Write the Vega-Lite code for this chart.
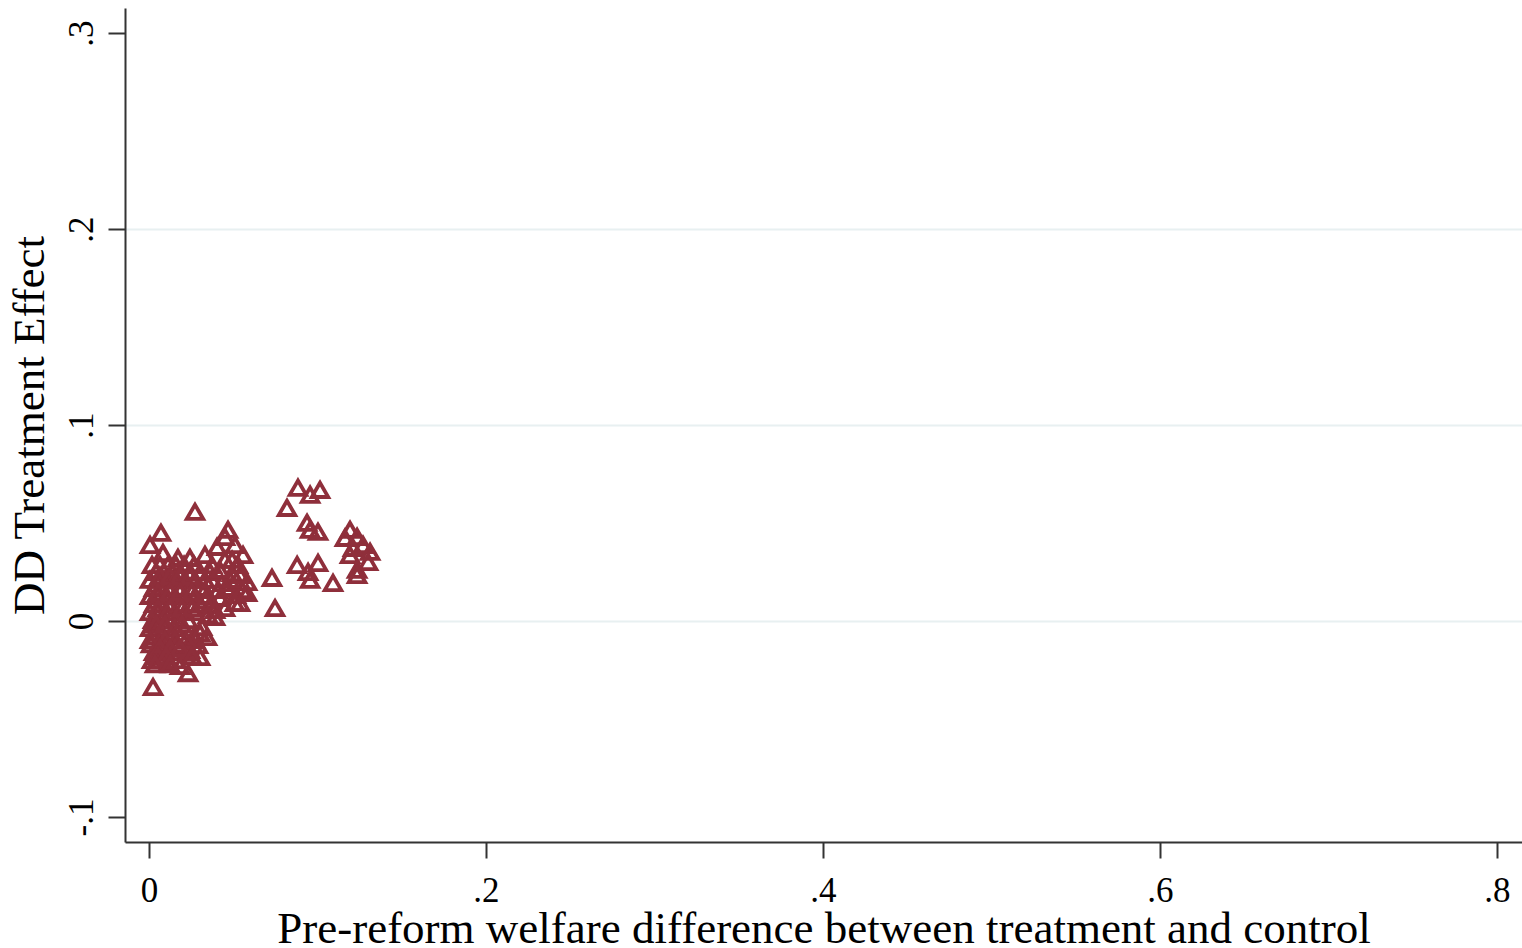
{
  "$schema": "https://vega.github.io/schema/vega-lite/v6.json",
  "width": 1397,
  "height": 834,
  "autosize": {"type": "none"},
  "padding": {"left": 125, "top": 8, "right": 0, "bottom": 106},
  "background": "white",
  "config": {
    "view": {"stroke": null},
    "font": "Liberation Serif"
  },
  "data": {
    "values": [
      {"x": 0.0071, "y": 0.0450}, {"x": 0.0006, "y": 0.0388}, {"x": 0.0083, "y": 0.0347}, {"x": 0.0172, "y": 0.0322},
      {"x": 0.0243, "y": 0.0322}, {"x": 0.0362, "y": 0.0250}, {"x": 0.0469, "y": 0.0465}, {"x": 0.0404, "y": 0.0378},
      {"x": 0.0510, "y": 0.0388}, {"x": 0.0558, "y": 0.0337}, {"x": 0.0451, "y": 0.0312}, {"x": 0.0582, "y": 0.0199},
      {"x": 0.0493, "y": 0.0245}, {"x": 0.0410, "y": 0.0158}, {"x": 0.0510, "y": 0.0092}, {"x": 0.0392, "y": 0.0020},
      {"x": 0.0315, "y": -0.0031}, {"x": 0.0303, "y": -0.0184}, {"x": 0.0232, "y": -0.0266}, {"x": 0.0024, "y": -0.0337},
      {"x": 0.0065, "y": -0.0199}, {"x": 0.0113, "y": -0.0215}, {"x": 0.0006, "y": 0.0210}, {"x": 0.0273, "y": 0.0557},
      {"x": 0.0451, "y": 0.0429},
      {"x": 0.0884, "y": 0.0680}, {"x": 0.0956, "y": 0.0644}, {"x": 0.1015, "y": 0.0669}, {"x": 0.0819, "y": 0.0577},
      {"x": 0.0938, "y": 0.0501}, {"x": 0.0956, "y": 0.0465}, {"x": 0.1003, "y": 0.0455}, {"x": 0.1193, "y": 0.0465},
      {"x": 0.1163, "y": 0.0424}, {"x": 0.1235, "y": 0.0429}, {"x": 0.1270, "y": 0.0388}, {"x": 0.1211, "y": 0.0373},
      {"x": 0.1312, "y": 0.0353}, {"x": 0.1193, "y": 0.0337}, {"x": 0.1300, "y": 0.0301}, {"x": 0.1235, "y": 0.0261},
      {"x": 0.1235, "y": 0.0235}, {"x": 0.0879, "y": 0.0286}, {"x": 0.1003, "y": 0.0296}, {"x": 0.0944, "y": 0.0250},
      {"x": 0.0956, "y": 0.0210}, {"x": 0.1092, "y": 0.0194}, {"x": 0.0730, "y": 0.0220}, {"x": 0.0748, "y": 0.0066},
      {"x": 0.0018, "y": 0.0286}, {"x": 0.0065, "y": 0.0286}, {"x": 0.0113, "y": 0.0286}, {"x": 0.0160, "y": 0.0286},
      {"x": 0.0208, "y": 0.0286}, {"x": 0.0267, "y": 0.0286},
      {"x": 0.0042, "y": 0.0250}, {"x": 0.0089, "y": 0.0250}, {"x": 0.0137, "y": 0.0250}, {"x": 0.0184, "y": 0.0250},
      {"x": 0.0243, "y": 0.0250}, {"x": 0.0303, "y": 0.0250},
      {"x": 0.0053, "y": 0.0210}, {"x": 0.0101, "y": 0.0210}, {"x": 0.0154, "y": 0.0210}, {"x": 0.0214, "y": 0.0210},
      {"x": 0.0273, "y": 0.0210}, {"x": 0.0332, "y": 0.0210},
      {"x": 0.0030, "y": 0.0169}, {"x": 0.0077, "y": 0.0169}, {"x": 0.0125, "y": 0.0169}, {"x": 0.0184, "y": 0.0169},
      {"x": 0.0243, "y": 0.0169}, {"x": 0.0303, "y": 0.0169},
      {"x": 0.0006, "y": 0.0128}, {"x": 0.0053, "y": 0.0128}, {"x": 0.0101, "y": 0.0128}, {"x": 0.0154, "y": 0.0128},
      {"x": 0.0214, "y": 0.0128}, {"x": 0.0273, "y": 0.0128}, {"x": 0.0350, "y": 0.0128},
      {"x": 0.0030, "y": 0.0087}, {"x": 0.0077, "y": 0.0087}, {"x": 0.0125, "y": 0.0087}, {"x": 0.0184, "y": 0.0087},
      {"x": 0.0243, "y": 0.0087}, {"x": 0.0303, "y": 0.0087},
      {"x": 0.0006, "y": 0.0046}, {"x": 0.0053, "y": 0.0046}, {"x": 0.0101, "y": 0.0046}, {"x": 0.0154, "y": 0.0046},
      {"x": 0.0214, "y": 0.0046}, {"x": 0.0273, "y": 0.0046},
      {"x": 0.0024, "y": 0.0005}, {"x": 0.0071, "y": 0.0005}, {"x": 0.0125, "y": 0.0005}, {"x": 0.0172, "y": 0.0005},
      {"x": 0.0232, "y": 0.0005},
      {"x": 0.0006, "y": -0.0036}, {"x": 0.0053, "y": -0.0036}, {"x": 0.0101, "y": -0.0036}, {"x": 0.0154, "y": -0.0036},
      {"x": 0.0030, "y": -0.0077}, {"x": 0.0077, "y": -0.0077}, {"x": 0.0125, "y": -0.0077}, {"x": 0.0184, "y": -0.0077},
      {"x": 0.0267, "y": -0.0077},
      {"x": 0.0012, "y": -0.0118}, {"x": 0.0059, "y": -0.0118}, {"x": 0.0107, "y": -0.0118}, {"x": 0.0166, "y": -0.0118},
      {"x": 0.0030, "y": -0.0158}, {"x": 0.0077, "y": -0.0158}, {"x": 0.0137, "y": -0.0158}, {"x": 0.0220, "y": -0.0158},
      {"x": 0.0018, "y": -0.0199}, {"x": 0.0160, "y": -0.0199}, {"x": 0.0184, "y": -0.0230},
      {"x": 0.0332, "y": 0.0158}, {"x": 0.0362, "y": 0.0082}, {"x": 0.0421, "y": 0.0118}, {"x": 0.0469, "y": 0.0169},
      {"x": 0.0516, "y": 0.0133}, {"x": 0.0552, "y": 0.0158}, {"x": 0.0433, "y": 0.0194}, {"x": 0.0481, "y": 0.0210},
      {"x": 0.0540, "y": 0.0235}, {"x": 0.0374, "y": 0.0210}, {"x": 0.0374, "y": 0.0286}, {"x": 0.0332, "y": 0.0337},
      {"x": 0.0332, "y": 0.0107}, {"x": 0.0392, "y": 0.0056}, {"x": 0.0451, "y": 0.0066}, {"x": 0.0350, "y": 0.0031},
      {"x": 0.0273, "y": -0.0097}, {"x": 0.0243, "y": -0.0148}, {"x": 0.0291, "y": -0.0123}, {"x": 0.0303, "y": -0.0061},
      {"x": 0.0344, "y": -0.0082}, {"x": 0.0540, "y": 0.0092}, {"x": 0.0582, "y": 0.0143}, {"x": 0.0421, "y": 0.0261},
      {"x": 0.0493, "y": 0.0312}, {"x": 0.0528, "y": 0.0286},
      {"x": 0.0065, "y": 0.0230}, {"x": 0.0125, "y": 0.0230}, {"x": 0.0184, "y": 0.0230}, {"x": 0.0243, "y": 0.0230},
      {"x": 0.0053, "y": 0.0148}, {"x": 0.0125, "y": 0.0148}, {"x": 0.0184, "y": 0.0148}, {"x": 0.0255, "y": 0.0148},
      {"x": 0.0053, "y": 0.0066}, {"x": 0.0125, "y": 0.0066}, {"x": 0.0196, "y": 0.0066}, {"x": 0.0255, "y": 0.0066},
      {"x": 0.0042, "y": -0.0015}, {"x": 0.0095, "y": -0.0015}, {"x": 0.0196, "y": -0.0015},
      {"x": 0.0006, "y": -0.0097}, {"x": 0.0095, "y": -0.0097}, {"x": 0.0154, "y": -0.0097}, {"x": 0.0220, "y": -0.0097},
      {"x": 0.0065, "y": -0.0138}, {"x": 0.0125, "y": -0.0138}, {"x": 0.0184, "y": -0.0138},
      {"x": 0.0053, "y": -0.0179}, {"x": 0.0101, "y": -0.0179}, {"x": 0.0255, "y": -0.0179},
      {"x": 0.0036, "y": -0.0220}, {"x": 0.0125, "y": -0.0220}
    ]
  },
  "mark": {
    "type": "point",
    "shape": "triangle-up",
    "filled": false,
    "size": 270,
    "strokeWidth": 3.8,
    "color": "#8f2f3b",
    "opacity": 1
  },
  "encoding": {
    "x": {
      "field": "x",
      "type": "quantitative",
      "scale": {"domain": [-0.01424, 0.81484], "nice": false, "zero": false},
      "axis": {
        "values": [0, 0.2, 0.4, 0.6, 0.8],
        "labelExpr": "datum.value == 0 ? '0' : replace(format(datum.value, '.1f'), '0.', '.')",
        "title": "Pre-reform welfare difference between treatment and control",
        "grid": false,
        "domainColor": "#333333",
        "domainWidth": 2,
        "tickColor": "#333333",
        "tickWidth": 2,
        "tickSize": 16,
        "labelFont": "Liberation Serif",
        "labelFontSize": 35,
        "labelColor": "#000000",
        "labelPadding": 15,
        "labelFlush": false,
        "titleFont": "Liberation Serif",
        "titleFontSize": 45,
        "titleFontWeight": "normal",
        "titleColor": "#000000",
        "titlePadding": -2
      }
    },
    "y": {
      "field": "y",
      "type": "quantitative",
      "scale": {"domain": [-0.11276, 0.31276], "nice": false, "zero": false},
      "axis": {
        "values": [-0.1, 0, 0.1, 0.2, 0.3],
        "labelExpr": "datum.value == 0 ? '0' : (datum.value < 0 ? '-' : '') + replace(format(abs(datum.value), '.1f'), '0.', '.')",
        "title": "DD Treatment Effect",
        "grid": true,
        "gridColor": "#e8f0f1",
        "gridWidth": 2,
        "gridOpacity": {"condition": {"test": "datum.value < -0.05 || datum.value > 0.25", "value": 0}, "value": 1},
        "domainColor": "#333333",
        "domainWidth": 2,
        "tickColor": "#333333",
        "tickWidth": 2,
        "tickSize": 17,
        "labelFont": "Liberation Serif",
        "labelFontSize": 35,
        "labelColor": "#000000",
        "labelAngle": -90,
        "labelPadding": 9,
        "labelFlush": false,
        "titleFont": "Liberation Serif",
        "titleFontSize": 45,
        "titleFontWeight": "normal",
        "titleColor": "#000000",
        "titlePadding": 12
      }
    }
  }
}
